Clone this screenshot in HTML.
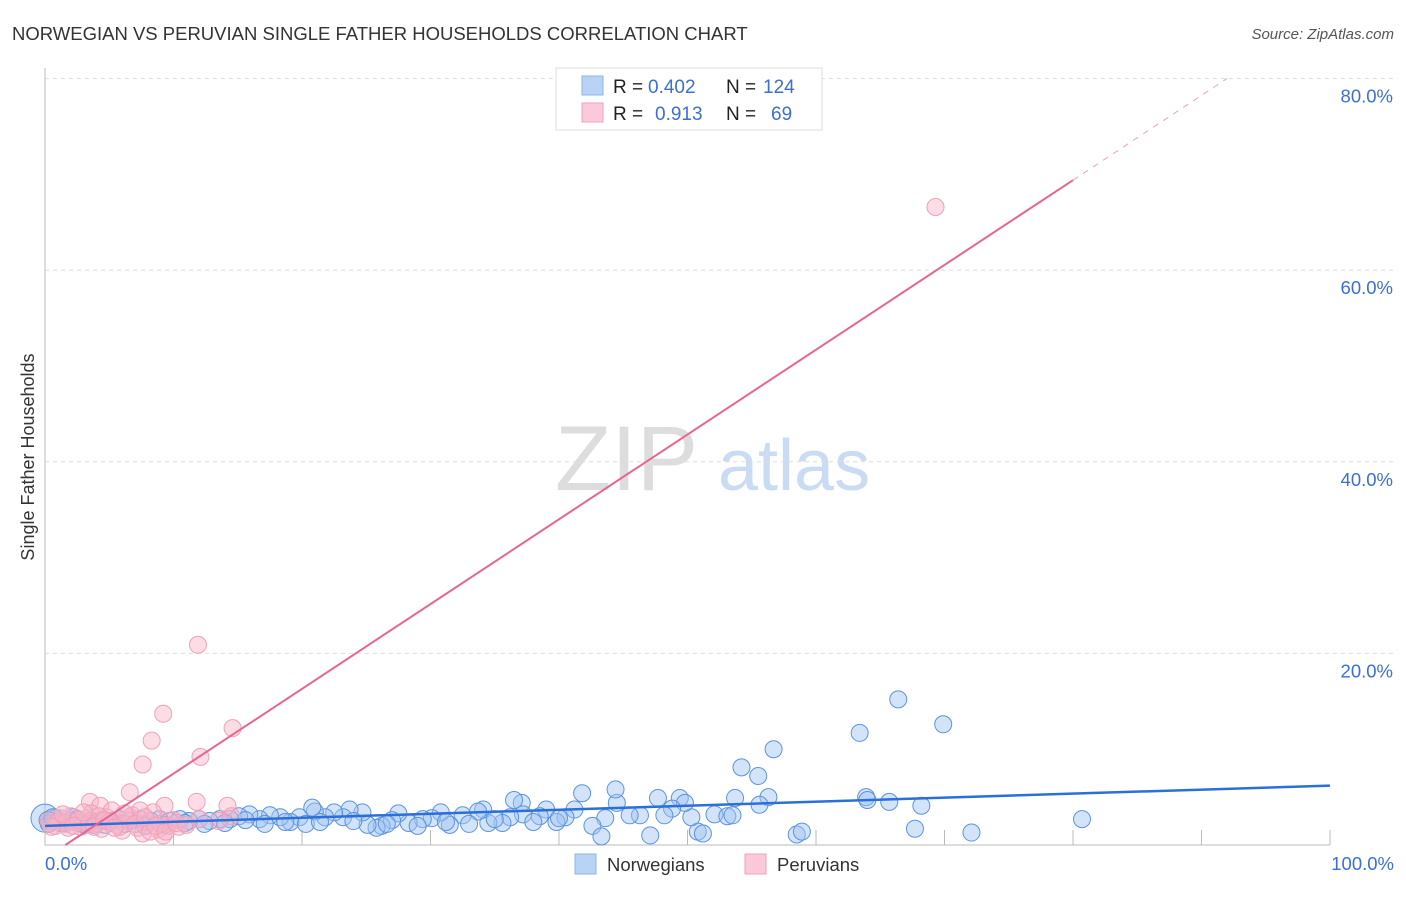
<!DOCTYPE html>
<html><head><meta charset="utf-8"><style>
body{margin:0;background:#fff;font-family:"Liberation Sans",sans-serif;}
svg text{font-family:"Liberation Sans",sans-serif;}
</style></head><body>
<svg id="c" width="1406" height="892" xmlns="http://www.w3.org/2000/svg">
<text x="12" y="40" font-size="18.5" fill="#333">NORWEGIAN VS PERUVIAN SINGLE FATHER HOUSEHOLDS CORRELATION CHART</text>
<text x="1394" y="39" font-size="15" fill="#555" text-anchor="end" font-style="italic">Source: ZipAtlas.com</text>
<g>
<text x="555" y="490" font-size="92" fill="#ddd" font-family="Liberation Serif,serif">ZIP</text>
<text x="718" y="490" font-size="72" fill="#c9dcf3">atlas</text>
</g>
<g id="grid"></g><g id="axes"></g><g id="pts"></g><g id="lines"></g>
<text transform="translate(34,457) rotate(-90)" font-size="18" fill="#333" text-anchor="middle">Single Father Households</text>
<text x="45" y="870" font-size="18.5" fill="#3a6fd8">0.0%</text>
<text x="1394" y="870" font-size="18.5" fill="#3a6fd8" text-anchor="end">100.0%</text>
<g>
<rect x="556" y="68" width="266" height="62" fill="#fff" stroke="#ddd"/>
<rect x="582" y="76" width="21" height="19" fill="#b8d3f5" stroke="#8fb5e8"/>
<rect x="582" y="103" width="21" height="19" fill="#fbc9d7" stroke="#f0a2bb"/>
<text x="613" y="93" font-size="19" fill="#222">R =</text>
<text x="648" y="93" font-size="19" fill="#3a6fd8">0.402</text>
<text x="726" y="93" font-size="19" fill="#222">N =</text>
<text x="763" y="93" font-size="19" fill="#3a6fd8">124</text>
<text x="613" y="120" font-size="19" fill="#222">R =</text>
<text x="655" y="120" font-size="19" fill="#3a6fd8">0.913</text>
<text x="726" y="120" font-size="19" fill="#222">N =</text>
<text x="771" y="120" font-size="19" fill="#3a6fd8">69</text>
</g>
<g><rect x="575" y="854" width="21" height="20" fill="#b8d3f5" stroke="#8fb5e8"/><text x="607" y="871" font-size="18.5" fill="#333">Norwegians</text></g>
<g><rect x="745" y="854" width="21" height="20" fill="#fbc9d7" stroke="#f0a2bb"/><text x="777" y="871" font-size="18.5" fill="#333">Peruvians</text></g>
</svg>
<script>
const yTicks=[20,40,60,80];
const blueX=[66.4,69.9,63.4,56.7,54.2,55.5,80.7,72.1,67.7,63.9,64.0,65.7,68.2,58.5,58.9,56.3,53.7,55.6,50.8,51.2,52.1,53.1,53.5,50.3,49.4,49.8,47.7,48.8,48.2,47.1,46.3,45.5,44.5,44.4,43.6,42.6,43.3,41.8,41.2,40.5,39.8,39.0,38.5,37.1,37.2,36.2,35.6,34.5,34.1,33.7,32.5,31.5,30.8,30.1,29.4,28.3,27.5,27.0,26.2,25.8,25.1,24.7,23.7,23.2,22.5,21.8,21.0,20.8,19.8,19.1,18.3,17.5,16.7,15.9,15.1,14.4,13.6,12.8,12.0,11.2,10.5,9.7,8.9,8.2,7.4,6.6,5.8,5.1,4.3,3.5,2.7,1.9,1.2,0.5,0.3,0.8,2.2,3.1,4.7,6.2,7.8,9.3,10.9,12.4,14.0,15.6,17.1,18.7,20.3,21.4,24.0,26.6,29.0,31.2,33.0,35.0,38.0,40.0,36.5,0.2,0.6,1.5,2.5,3.8];
const blueY=[15.2,12.6,11.7,10.0,8.1,7.2,2.7,1.3,1.7,5.0,4.7,4.5,4.1,1.1,1.4,5.0,4.9,4.2,1.4,1.2,3.2,3.0,3.1,2.9,4.9,4.4,4.9,3.8,3.1,1.0,3.1,3.1,4.4,5.8,2.8,2.0,0.9,5.4,3.7,2.9,2.4,3.7,3.0,4.4,3.2,2.9,2.3,2.3,3.7,3.5,3.1,2.1,3.4,2.8,2.7,2.3,3.3,2.6,2.0,1.8,2.1,3.4,3.7,2.9,3.4,2.9,3.5,3.9,2.9,2.4,2.9,3.1,2.7,3.2,3.0,2.7,2.7,2.5,2.7,2.5,2.7,2.5,2.7,2.5,2.7,2.5,2.7,2.5,2.5,2.5,2.3,2.5,2.3,2.5,2.2,2.8,2.9,2.1,2.1,2.2,2.0,2.1,2.3,2.2,2.3,2.6,2.2,2.4,2.2,2.4,2.5,2.2,2.0,2.4,2.2,2.7,2.4,2.8,4.7,2.6,2.9,2.3,2.7,2.1];
const pinkX=[11.9,9.2,8.3,7.6,14.6,12.1,6.6,69.3,11.8,9.3,14.2,3.5,4.3,0.3,0.8,1.2,1.6,2.0,2.4,2.8,3.2,3.6,4.0,4.4,4.8,5.2,5.6,6.0,6.4,6.8,7.2,7.6,8.0,8.4,8.8,9.2,9.6,10.0,10.4,1.0,1.8,2.6,3.4,4.2,5.0,5.8,6.6,7.4,8.2,9.0,0.5,1.4,2.2,3.0,3.8,4.6,5.4,6.2,7.0,7.8,8.6,9.4,10.2,11.0,12.0,13.5,14.5];
const pinkY=[20.9,13.7,10.9,8.4,12.2,9.2,5.5,66.6,4.5,4.1,4.1,4.5,4.1,2.5,2.0,2.8,2.2,3.0,2.4,1.9,2.7,3.3,2.3,1.7,2.9,3.6,2.1,1.5,2.6,3.1,1.8,1.2,2.4,3.4,1.6,1.0,2.0,2.6,1.9,2.4,1.8,2.6,2.2,3.0,2.4,1.9,2.9,3.6,1.4,2.2,1.9,3.2,2.0,3.4,1.9,2.6,1.8,3.3,2.2,2.9,2.0,1.4,2.3,2.1,2.7,2.5,3.0];
const blueFit=[2.0,6.2]; // y at x=0 and x=100
const pinkFit=[-1.4,0.885]; // intercept, slope
const X=v=>45+v*12.85, Y=v=>845-v*9.58;
const NS="http://www.w3.org/2000/svg";
function mk(p,t,a){const e=document.createElementNS(NS,t);for(const k in a)e.setAttribute(k,a[k]);p.appendChild(e);return e;}
const grid=document.getElementById('grid'),axes=document.getElementById('axes'),pts=document.getElementById('pts'),lines=document.getElementById('lines');
yTicks.forEach(t=>{
 const l=mk(grid,'line',{x1:45,x2:1393,y1:Y(t),y2:Y(t),stroke:'#ddd','stroke-dasharray':'4 4'});
 
 
 const tx=mk(grid,'text',{x:1393,y:Y(t)+24,'font-size':18.5,fill:'#3a6fd8','text-anchor':'end'});
 tx.textContent=t.toFixed(1)+'%';
 
 
});
const ax=mk(axes,'path',{d:`M45 68V${Y(0)}H${X(100)}`,fill:'none',stroke:'#bbb'});


for(let i=1;i<=10;i++){const t=mk(axes,'line',{x1:X(i*10),x2:X(i*10),y1:Y(0),y2:Y(0)-15,stroke:'#bbb'});
 
 }
const big=mk(pts,'circle',{cx:X(0),cy:Y(2.8),r:14,fill:'rgba(160,196,240,0.45)',stroke:'#5b93e0'});


blueX.forEach((x,i)=>{const c=mk(pts,'circle',{cx:X(x),cy:Y(blueY[i]),r:8.5,fill:'rgba(160,196,240,0.45)',stroke:'#5b93e0','stroke-width':1});
 
 });
pinkX.forEach((x,i)=>{const c=mk(pts,'circle',{cx:X(x),cy:Y(pinkY[i]),r:8.5,fill:'rgba(248,180,200,0.45)',stroke:'#f0a0b8','stroke-width':1});
 
 });
const bl=mk(lines,'line',{x1:X(0),y1:Y(blueFit[0]),x2:X(100),y2:Y(blueFit[1]),stroke:'#2a6fdb','stroke-width':2.5});


const x0=-pinkFit[0]/pinkFit[1];
const pl=mk(lines,'line',{x1:X(x0),y1:Y(0),x2:X(80),y2:Y(pinkFit[0]+pinkFit[1]*80),stroke:'#e8658f','stroke-width':2});


const xe=(80-pinkFit[0])/pinkFit[1];
const pd=mk(lines,'line',{x1:X(80),y1:Y(pinkFit[0]+pinkFit[1]*80),x2:X(xe),y2:Y(80),stroke:'#f0a0b8','stroke-width':1,'stroke-dasharray':'6 6'});


</script>
</body></html>
